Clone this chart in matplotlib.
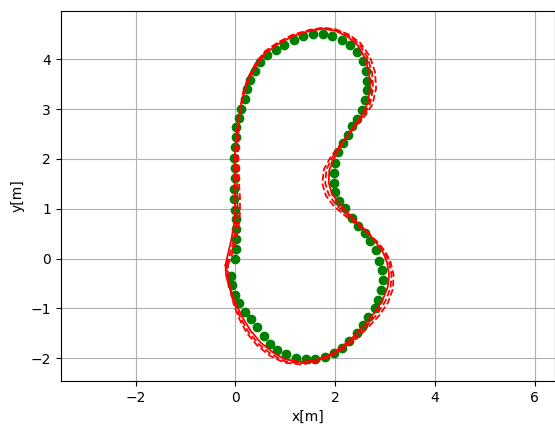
import numpy as np
import matplotlib
matplotlib.use("Agg")
from matplotlib import pyplot as plt

# reference waypoints (green dots)
ref_x = [0.0, 0.01, 0.01, 0.01, 0.01, 0.0, -0.02, -0.02, -0.01, -0.01, -0.02, 0.0, 0.01, 0.02, 0.07,
         0.11, 0.19, 0.23, 0.30, 0.39, 0.49, 0.63, 0.81, 0.98, 1.17, 1.35, 1.55, 1.76, 1.94, 2.13,
         2.30, 2.43, 2.55, 2.61, 2.63, 2.63, 2.60, 2.54, 2.43, 2.33, 2.25, 2.15, 2.05, 1.99, 1.97,
         1.97, 2.00, 2.08, 2.20, 2.33, 2.45, 2.59, 2.70, 2.81, 2.88, 2.94, 2.95, 2.92, 2.85, 2.79,
         2.65, 2.55, 2.43, 2.28, 2.13, 1.97, 1.79, 1.60, 1.42, 1.21, 1.01, 0.83, 0.70, 0.57, 0.43,
         0.32, 0.20, 0.08, 0.0, -0.08, -0.10]
ref_y = [0.0, 0.19, 0.39, 0.59, 0.79, 0.98, 1.19, 1.40, 1.61, 1.81, 2.01, 2.23, 2.43, 2.63, 2.83,
         3.01, 3.21, 3.40, 3.58, 3.77, 3.95, 4.08, 4.19, 4.29, 4.39, 4.46, 4.50, 4.51, 4.46, 4.38,
         4.28, 4.15, 3.97, 3.77, 3.57, 3.38, 3.18, 2.99, 2.81, 2.65, 2.48, 2.31, 2.13, 1.91, 1.71,
         1.51, 1.34, 1.16, 1.01, 0.81, 0.66, 0.51, 0.35, 0.17, -0.05, -0.23, -0.43, -0.63, -0.82, -1.00,
         -1.17, -1.33, -1.49, -1.65, -1.79, -1.89, -1.97, -2.02, -2.02, -1.99, -1.92, -1.84, -1.71, -1.55, -1.37,
         -1.22, -1.07, -0.89, -0.72, -0.52, -0.34]

# driven path (solid red), clockwise
path_x = [-0.20, -0.15, -0.09, -0.04, -0.01, -0.01, -0.02, -0.02, -0.01, 0.01, 0.05, 0.10, 0.17,
          0.28, 0.45, 0.62, 0.85, 1.15, 1.50, 1.75, 2.00, 2.25, 2.45, 2.60, 2.68, 2.70, 2.65,
          2.55, 2.35, 2.15, 1.98, 1.88, 1.87, 1.93, 2.06, 2.25, 2.45, 2.65, 2.82, 2.96, 3.04,
          3.08, 3.05, 2.95, 2.79, 2.58, 2.35, 2.12, 1.88, 1.60, 1.30, 1.00, 0.75, 0.50, 0.30,
          0.14, 0.02, -0.07, -0.14, -0.19]
path_y = [-0.13, 0.10, 0.35, 0.62, 0.92, 1.22, 1.52, 1.82, 2.12, 2.42, 2.72, 3.02, 3.32,
          3.62, 3.92, 4.13, 4.30, 4.46, 4.57, 4.61, 4.57, 4.45, 4.28, 4.02, 3.72, 3.42, 3.12,
          2.90, 2.62, 2.32, 2.02, 1.77, 1.52, 1.32, 1.12, 0.92, 0.72, 0.52, 0.32, 0.12, -0.08,
          -0.33, -0.58, -0.83, -1.08, -1.33, -1.58, -1.78, -1.93, -2.04, -2.07, -2.02, -1.88, -1.68, -1.44,
          -1.18, -0.93, -0.70, -0.52, -0.33]

# outward offsets of the two dashed runs from the solid path [m]
off_a = [-0.02, -0.04, -0.05, -0.05, -0.05, -0.05, -0.05, -0.04, -0.03, -0.02, -0.01, 0.0, 0.01,
         0.02, 0.02, 0.02, 0.02, 0.01, 0.01, 0.01, 0.02, 0.03, 0.04, 0.05, 0.06, 0.06, 0.05,
         0.03, 0.01, -0.01, -0.04, -0.06, -0.07, -0.07, -0.06, -0.04, -0.02, 0.0, 0.02, 0.03, 0.04,
         0.05, 0.06, 0.06, 0.06, 0.05, 0.04, 0.03, 0.02, 0.02, 0.03, 0.04, 0.05, 0.05, 0.05,
         0.04, 0.03, 0.01, -0.01, -0.02]
off_b = [-0.05, -0.08, -0.09, -0.10, -0.10, -0.10, -0.09, -0.08, -0.06, -0.04, -0.02, 0.0, 0.02,
         0.03, 0.04, 0.04, 0.03, 0.03, 0.02, 0.02, 0.03, 0.05, 0.07, 0.10, 0.12, 0.12, 0.10,
         0.06, 0.02, -0.02, -0.07, -0.11, -0.13, -0.13, -0.11, -0.08, -0.04, 0.0, 0.03, 0.05, 0.07,
         0.09, 0.11, 0.12, 0.11, 0.09, 0.07, 0.05, 0.04, 0.04, 0.05, 0.07, 0.09, 0.09, 0.09,
         0.07, 0.05, 0.02, -0.02, -0.04]


def closed(a):
    a = np.asarray(a, dtype=float)
    return np.append(a, a[0])


def offset_path(xs, ys, off):
    xs = np.asarray(xs, dtype=float)
    ys = np.asarray(ys, dtype=float)
    dx = np.roll(xs, -1) - np.roll(xs, 1)
    dy = np.roll(ys, -1) - np.roll(ys, 1)
    n = np.hypot(dx, dy)
    # clockwise loop -> outward normal is (-dy, dx)
    nx, ny = -dy / n, dx / n
    off = np.asarray(off, dtype=float)
    return closed(xs + off * nx), closed(ys + off * ny)


fig = plt.figure(figsize=(5.55, 4.26), dpi=100)
ax = fig.add_axes([60 / 555, 45 / 426, 496 / 555, 370 / 426])

ax.plot(ref_x, ref_y, 'og')
ax.plot(closed(path_x), closed(path_y), '-r', lw=1.3)
xa, ya = offset_path(path_x, path_y, off_a)
ax.plot(xa, ya, '--r', lw=1.3)
xb, yb = offset_path(path_x, path_y, off_b)
ax.plot(xb, yb, '--r', lw=1.3)

ax.set_xlim(-3.506, 6.414)
ax.set_ylim(-2.454, 4.966)
ax.set_aspect('equal')
ax.set_xticks([-2, 0, 2, 4, 6])
ax.set_yticks([-2, -1, 0, 1, 2, 3, 4])
ax.set_xlabel('x[m]')
ax.set_ylabel('y[m]')
ax.grid(True)

fig.savefig('out.png', dpi=100)
